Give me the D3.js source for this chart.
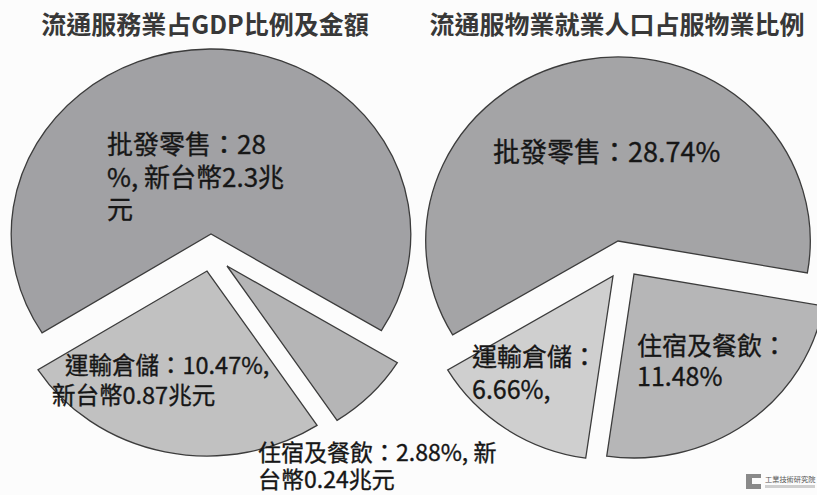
<!DOCTYPE html>
<html>
<head>
<meta charset="utf-8">
<script src="https://cdn.jsdelivr.net/npm/d3@7"></script>
<style>
  body { margin: 0; background: #fcfcfc; }
  text { font-family: "Noto Sans CJK TC", "Noto Sans", sans-serif; }
</style>
</head>
<body>
<script>
// categories shared by both pies (order = drawing order, counterclockwise)
const categories = ["批發零售", "運輸倉儲", "住宿及餐飲"];

// left pie: share of GDP and amount
const gdpTitle = "流通服務業占GDP比例及金額";
const gdpShares = [28, 10.47, 2.88];
const gdpLabels = [
  ["批發零售：28", "%, 新台幣2.3兆", "元"],
  ["運輸倉儲：10.47%,", "新台幣0.87兆元"],
  ["住宿及餐飲：2.88%, 新", "台幣0.24兆元"]
];

// right pie: share of employed population
const jobTitle = "流通服物業就業人口占服物業比例";
const jobShares = [28.74, 6.66, 11.48];
const jobLabels = [
  ["批發零售：28.74%"],
  ["運輸倉儲：", "6.66%,"],
  ["住宿及餐飲：", "11.48%"]
];

const width = 817, height = 495;

let svg = d3.select("body").append("svg")
  .attr("width", width)
  .attr("height", height);

svg.append("rect")
  .attr("width", width)
  .attr("height", height)
  .attr("fill", "#fcfcfc");

//layout for each pie: centre, radius, horizontal stretch, first angle, explode offsets, label anchors
let charts = [
  {
    title: gdpTitle, shares: gdpShares, labels: gdpLabels,
    titleX: 205,
    cx: 211, cy: 234, r: 185, sx: 1.08, start: 121.5,
    colors: ["#a1a1a4", "#c1c1c1", "#b5b5b6"],
    explode: [[0, 0], [-4, 37], [16, 32]],
    labelAt: [[107, 154], [52, 374], [258, 461]],
    labelIndent: [0, 13, 0],
    labelSize: [26, 23.5, 23],
    lineGap: [32.5, 30, 27]
  },
  {
    title: jobTitle, shares: jobShares, labels: jobLabels,
    titleX: 617,
    cx: 618, cy: 241, r: 184, sx: 1.045, start: 100,
    colors: ["#a4a4a6", "#cfcfcf", "#b6b6b7"],
    explode: [[0, 0], [-5, 35], [16, 33]],
    labelAt: [[493, 162], [472, 366], [637, 355]],
    labelIndent: [0, 0, 0],
    labelSize: [27, 25, 25],
    lineGap: [32, 33, 31]
  }
];

charts.forEach(function(c) {
  svg.append("text") //chart title
    .attr("x", c.titleX)
    .attr("y", 34)
    .attr("text-anchor", "middle")
    .attr("font-size", 25)
    .attr("font-weight", "bold")
    .attr("fill", "#383838")
    .text(c.title);

  let startRad = c.start * Math.PI / 180;
  let pie = d3.pie()
    .sort(null)
    .startAngle(startRad)
    .endAngle(startRad - 2 * Math.PI); //counterclockwise like the original

  let arc = d3.arc()
    .innerRadius(0)
    .outerRadius(c.r);

  let slices = pie(c.shares);

  svg.append("g").selectAll("g")
    .data(slices)
    .enter().append("g")
      .attr("transform", (d, i) => `translate(${c.cx + c.explode[i][0]}, ${c.cy + c.explode[i][1]}) scale(${c.sx}, 1)`)
    .append("path")
      .attr("d", arc)
      .attr("fill", (d, i) => c.colors[i])
      .attr("stroke", "#3c3c3c")
      .attr("stroke-width", 1.3)
      .attr("stroke-linejoin", "miter")
      .attr("vector-effect", "non-scaling-stroke");

  //labels
  c.labels.forEach(function(lines, i) {
    let t = svg.append("text")
      .attr("font-size", c.labelSize[i])
      .attr("fill", "#161616")
      .attr("stroke", "#161616")
      .attr("stroke-width", 0.35);
    lines.forEach(function(line, k) {
      t.append("tspan")
        .attr("x", c.labelAt[i][0] + (k === 0 ? c.labelIndent[i] : 0))
        .attr("y", c.labelAt[i][1] + k * c.lineGap[i])
        .text(line);
    });
  });
});

//small logo, bottom right
let logo = svg.append("g").attr("transform", "translate(746, 474)");
logo.append("path")
  .attr("d", "M0,0 H15 V4 H6 V10 H15 V15 H0 Z")
  .attr("fill", "#8a8a8a");
logo.append("text")
  .attr("x", 19)
  .attr("y", 8)
  .attr("font-size", 7.2)
  .attr("fill", "#555")
  .text("工業技術研究院");
logo.append("rect")
  .attr("x", 19).attr("y", 11)
  .attr("width", 50).attr("height", 3)
  .attr("fill", "#cfcfcf");
</script>
</body>
</html>
